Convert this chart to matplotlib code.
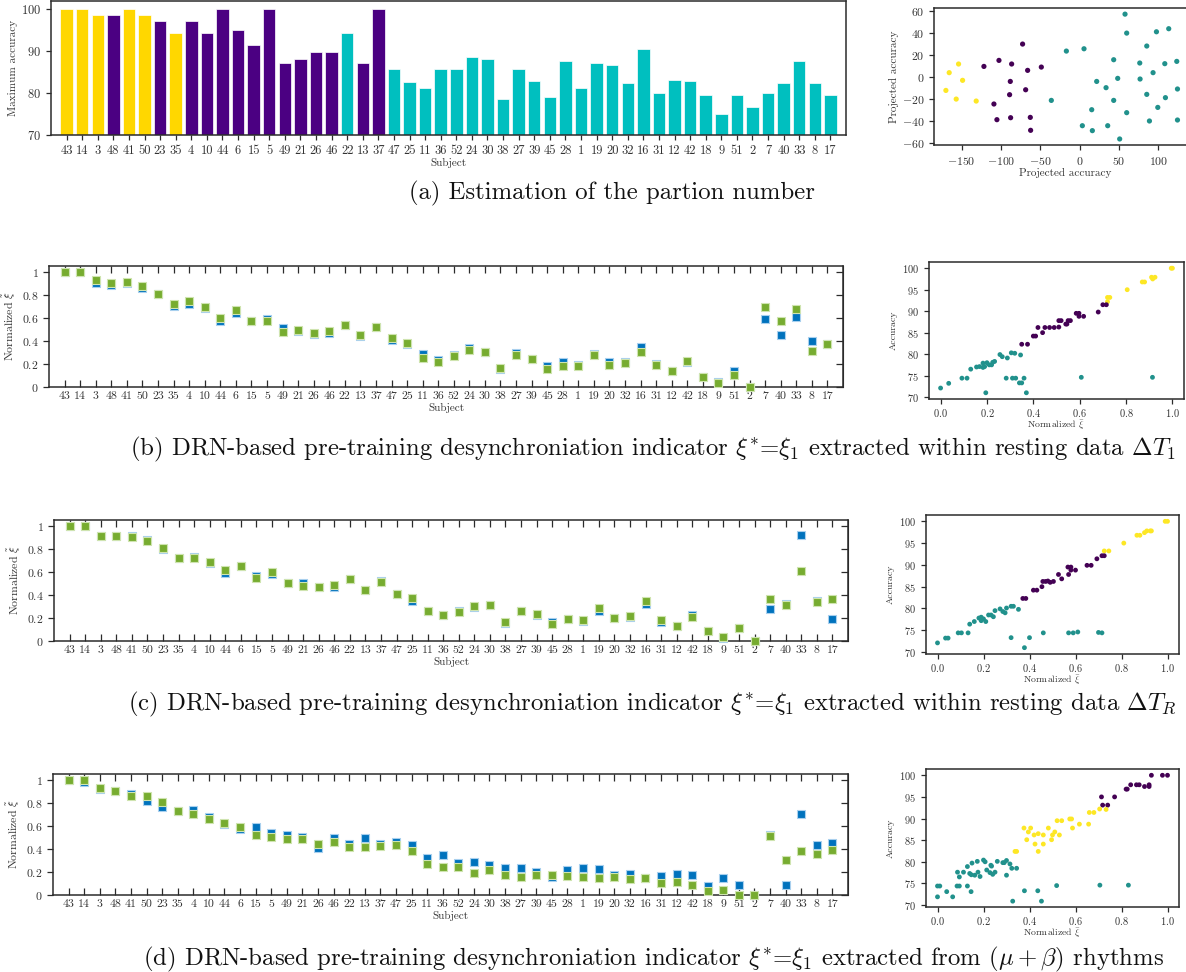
import matplotlib
matplotlib.use("Agg")
import matplotlib.pyplot as plt
from matplotlib.ticker import FixedLocator, FuncFormatter

# fonts: computer modern look
plt.rcParams["font.family"] = ["cmr10", "DejaVu Serif"]
plt.rcParams["mathtext.fontset"] = "cm"
plt.rcParams["axes.formatter.use_mathtext"] = True
plt.rcParams["axes.unicode_minus"] = False

# ---------------- data ----------------
subjects = [43, 14, 3, 48, 41, 50, 23, 35, 4, 10, 44, 6, 15, 5, 49, 21, 26, 46, 22, 13,
            37, 47, 25, 11, 36, 52, 24, 30, 38, 27, 39, 45, 28, 1, 19, 20, 32, 16, 31, 12,
            42, 18, 9, 51, 2, 7, 40, 33, 8, 17]

# groups: 0 purple, 1 teal, 2 yellow
bar_acc = [100, 100, 98.6, 98.6, 100, 98.6, 97.2, 94.3, 97.2, 94.3, 100, 95.0, 91.5, 100,
           87.2, 88.1, 89.8, 89.8, 94.3, 87.2, 100, 85.7, 82.5, 81.3, 85.7, 85.7, 88.6, 88.1,
           78.6, 85.7, 82.9, 79.1, 87.7, 81.3, 87.1, 86.7, 82.4, 90.5, 80.0, 83.0, 82.9, 79.5,
           75.0, 79.5, 76.7, 80.0, 82.4, 87.7, 82.4, 79.5]
bar_group = [2, 2, 2, 0, 2, 2, 0, 2, 0, 0, 0, 0, 0, 0, 0, 0, 0, 0, 1, 0, 0] + [1] * 29

proj_x = [-153.8, -165.7, -148.7, -169.9, -156.8, -131.4,
          -121.6, -102.5, -86.4, -72.5, -66.1, -48.7, -88.1, -68.6, -89.0, -108.9, -105.1,
          -87.7, -62.7, -62.3,
          -36.0, -16.9, 5.5, 21.6, 33.5, 43.2, 48.3, 43.2, 15.3, 3.4, 16.1, 35.6, 50.8, 59.7,
          57.6, 59.7, 76.3, 76.7, 85.2, 93.2, 85.2, 99.2, 88.6, 97.5, 113.1, 108.1, 108.9,
          123.3, 124.2, 124.2]
proj_y = [11.9, 4.0, -3.0, -12.2, -20.1, -21.9,
          9.7, 15.2, 11.9, 30.1, 6.1, 9.1, -4.0, -11.6, -16.1, -24.6, -38.9, -37.1, -36.8,
          -48.6,
          -21.3, 23.7, 25.8, -4.0, -9.7, 15.8, -1.2, -21.3, -29.8, -44.4, -48.9, -44.4, -56.5,
          -32.5, 57.4, 40.1, 12.8, -1.8, 28.3, 4.0, -15.8, -27.7, -40.1, 41.3, 44.1, 12.2,
          -18.8, 14.3, -10.9, -39.2]
proj_group = [2] * 6 + [0] * 14 + [1] * 30

# normalized xi, two series per panel
xi_b_blue = [1.0, 1.0, 0.90, 0.885, 0.90, 0.86, 0.805, 0.70, 0.72, 0.685, 0.575, 0.645, 0.57,
             0.59, 0.51, 0.49, 0.46, 0.47, 0.535, 0.445, 0.52, 0.41, 0.375, 0.285, 0.235, 0.275,
             0.335, 0.30, 0.16, 0.295, 0.24, 0.18, 0.215, 0.19, 0.29, 0.215, 0.22, 0.345, 0.20,
             0.135, 0.215, 0.09, 0.045, 0.135, 0.0, 0.59, 0.455, 0.605, 0.40, 0.375]
xi_b_green = [1.0, 1.0, 0.93, 0.90, 0.91, 0.88, 0.805, 0.72, 0.745, 0.69, 0.595, 0.665, 0.57,
              0.57, 0.48, 0.495, 0.465, 0.485, 0.54, 0.45, 0.52, 0.425, 0.38, 0.255, 0.22, 0.27,
              0.32, 0.30, 0.165, 0.28, 0.24, 0.16, 0.18, 0.18, 0.28, 0.19, 0.205, 0.305, 0.19,
              0.135, 0.225, 0.09, 0.035, 0.105, 0.0, 0.69, 0.57, 0.675, 0.315, 0.375]

xi_c_blue = [1.0, 1.0, 0.915, 0.91, 0.907, 0.88, 0.80, 0.72, 0.73, 0.68, 0.592, 0.65, 0.563,
             0.58, 0.503, 0.503, 0.465, 0.47, 0.535, 0.44, 0.517, 0.407, 0.347, 0.263, 0.225,
             0.263, 0.292, 0.315, 0.153, 0.263, 0.222, 0.162, 0.188, 0.176, 0.26, 0.202, 0.205,
             0.318, 0.165, 0.133, 0.222, 0.09, 0.03, 0.11, 0.0, 0.28, 0.324, 0.916, 0.35, 0.194]
xi_c_green = [0.995, 1.0, 0.915, 0.91, 0.905, 0.867, 0.803, 0.72, 0.722, 0.682, 0.615, 0.65,
              0.55, 0.595, 0.505, 0.477, 0.47, 0.485, 0.54, 0.44, 0.512, 0.407, 0.37, 0.26,
              0.225, 0.254, 0.303, 0.315, 0.165, 0.263, 0.231, 0.15, 0.188, 0.185, 0.286, 0.202,
              0.217, 0.344, 0.182, 0.133, 0.211, 0.09, 0.032, 0.113, 0.0, 0.361, 0.309, 0.607,
              0.335, 0.367]

xi_d_blue = [1.0, 0.983, 0.92, 0.905, 0.876, 0.815, 0.766, 0.731, 0.74, 0.673, 0.618, 0.575,
             0.59, 0.54, 0.517, 0.506, 0.407, 0.497, 0.445, 0.497, 0.442, 0.462, 0.434, 0.318,
             0.344, 0.277, 0.289, 0.26, 0.237, 0.234, 0.202, 0.156, 0.22, 0.234, 0.225, 0.173,
             0.185, 0.145, 0.165, 0.182, 0.173, 0.078, 0.145, 0.087, 0.0, 0.52, 0.09, 0.705,
             0.434, 0.45]
xi_d_green = [1.0, 1.0, 0.93, 0.905, 0.858, 0.855, 0.806, 0.731, 0.70, 0.66, 0.627, 0.587,
              0.523, 0.50, 0.486, 0.483, 0.442, 0.46, 0.419, 0.416, 0.428, 0.43, 0.384, 0.272,
              0.246, 0.243, 0.194, 0.217, 0.173, 0.159, 0.176, 0.176, 0.165, 0.156, 0.147, 0.159,
              0.136, 0.15, 0.10, 0.11, 0.084, 0.035, 0.04, 0.0, 0.0, 0.512, 0.30, 0.384, 0.355,
              0.387]

# accuracy vs normalized xi (cluster scatter)
sc_b_x = [0.995, 1.0, 0.91, 0.925, 0.915, 0.87, 0.88, 0.805, 0.72, 0.73, 0.72,
          0.715, 0.70, 0.68, 0.585, 0.597, 0.597, 0.617, 0.55, 0.56, 0.51, 0.52, 0.54, 0.545,
          0.42, 0.45, 0.47, 0.49, 0.51, 0.44, 0.40, 0.41, 0.35, 0.375,
          0.256, 0.266, 0.305, 0.32, 0.288, 0.345, 0.13, 0.155, 0.168, 0.183, 0.19, 0.21, 0.22,
          0.233, 0.183, 0.20, 0.225, 0.092, 0.114, 0.035, 0.0, 0.195, 0.283, 0.31, 0.324, 0.34,
          0.35, 0.36, 0.37, 0.607, 0.914]
sc_b_y = [100, 100, 97.9, 97.9, 97.5, 96.8, 96.8, 95.0, 93.2, 93.2, 92.2,
          91.5, 91.5, 89.8, 89.5, 89.5, 88.8, 88.8, 87.8, 87.8, 87.8, 87.8, 87.0, 87.0,
          86.2, 86.2, 86.2, 86.2, 86.3, 85.0, 84.2, 84.2, 82.3, 82.3,
          79.9, 79.4, 80.3, 80.2, 79.1, 79.8, 76.5, 77.0, 77.1, 77.9, 77.1, 77.5, 77.5,
          78.3, 76.9, 78.0, 78.1, 74.4, 74.4, 73.2, 72.1, 71.0, 74.4, 74.4, 74.4, 73.3,
          73.3, 74.4, 71.0, 74.6, 74.6]
sc_b_g = [2] * 11 + [0] * 23 + [1] * 31

sc_c_x = [0.99, 1.0, 0.91, 0.925, 0.93, 0.90, 0.867, 0.88, 0.81, 0.725, 0.745,
          0.715, 0.725, 0.693, 0.65, 0.668, 0.567, 0.58, 0.58, 0.60, 0.57, 0.526, 0.54, 0.458,
          0.47, 0.48, 0.49, 0.504, 0.454, 0.417, 0.432, 0.371, 0.384,
          0.352, 0.32, 0.33, 0.30, 0.272, 0.284, 0.294, 0.25, 0.222, 0.233, 0.243, 0.18, 0.19,
          0.20, 0.21, 0.19, 0.14, 0.16, 0.09, 0.104, 0.133, 0.035, 0.046, 0.0, 0.32, 0.378,
          0.40, 0.46, 0.57, 0.59, 0.61, 0.70, 0.715]
sc_c_y = [100, 100, 97.8, 97.8, 97.8, 97.4, 96.8, 96.8, 95.0, 93.2, 93.2,
          92.1, 92.1, 91.4, 89.9, 89.9, 89.5, 89.5, 88.8, 88.8, 87.8, 87.8, 86.8, 86.2,
          86.2, 86.3, 86.0, 86.2, 85.0, 84.2, 84.2, 82.3, 82.3,
          79.8, 80.5, 80.5, 80.1, 79.9, 79.3, 79.0, 79.5, 78.5, 78.5, 78.1, 77.8, 77.2,
          77.6, 77.0, 78.0, 76.4, 77.0, 74.4, 74.4, 74.4, 73.2, 73.2, 72.1, 73.3, 71.0,
          73.3, 74.4, 74.4, 74.4, 74.6, 74.5, 74.4]
sc_c_g = [2] * 11 + [0] * 22 + [1] * 33

sc_d_x = [0.978, 1.0, 0.93, 0.90, 0.92, 0.92, 0.865, 0.877, 0.84, 0.82, 0.825, 0.77, 0.713,
          0.718, 0.74,
          0.66, 0.68, 0.705, 0.733, 0.617, 0.657, 0.575, 0.583, 0.52, 0.54, 0.587, 0.482,
          0.405, 0.376, 0.51, 0.46, 0.50, 0.53, 0.395, 0.42, 0.438, 0.388, 0.496, 0.424, 0.46,
          0.337, 0.344, 0.438,
          0.0, 0.01, 0.0, 0.04, 0.066, 0.085, 0.095, 0.13, 0.146, 0.095, 0.087, 0.113, 0.13,
          0.15, 0.173, 0.20, 0.207, 0.14, 0.147, 0.162, 0.176, 0.185, 0.214, 0.228, 0.24, 0.25,
          0.235, 0.232, 0.26, 0.284, 0.29, 0.30, 0.315, 0.323, 0.344, 0.30, 0.327, 0.378,
          0.436, 0.452, 0.518, 0.706, 0.83]
sc_d_y = [100, 100, 100, 97.4, 97.4, 97.8, 97.8, 97.8, 97.8, 96.8, 96.8, 95.0, 95.0, 93.1,
          93.1,
          91.4, 91.4, 92.2, 92.1, 88.7, 88.7, 89.9, 89.9, 89.5, 89.5, 87.8, 87.8, 87.8, 87.8,
          86.9, 86.2, 86.2, 86.2, 86.9, 86.2, 86.5, 85.1, 85.1, 84.1, 84.1, 82.4, 82.4, 82.4,
          74.4, 74.4, 71.9, 73.1, 71.9, 74.4, 74.4, 74.4, 73.1, 76.5, 77.6, 77.6, 78.9, 79.7,
          80.1, 80.4, 80.0, 77.3, 77.0, 76.9, 77.6, 76.6, 78.1, 77.5, 77.1, 77.6, 79.0, 79.2,
          80.1, 79.8, 79.8, 80.3, 79.5, 78.5, 78.5, 76.9, 70.9, 73.3, 73.3, 70.9, 74.5, 74.6,
          74.6]
sc_d_g = [0] * 15 + [2] * 28 + [1] * 43

captions = [
    "(a) Estimation of the partion number",
    r"(b) DRN-based pre-training desynchroniation indicator $\xi^{*}$=$\xi_1$ extracted within resting data $\Delta T_1$",
    r"(c) DRN-based pre-training desynchroniation indicator $\xi^{*}$=$\xi_1$ extracted within resting data $\Delta T_R$",
    r"(d) DRN-based pre-training desynchroniation indicator $\xi^{*}$=$\xi_1$ extracted from $(\mu+\beta)$ rhythms",
]

# ---------------- styling ----------------
BAR_COLORS = {0: "#4B0082", 1: "#00BFBF", 2: "#FFD700"}
VIR_COLORS = {0: "#440154", 1: "#21918c", 2: "#fde725"}
BLUE, BLUE_EDGE = "#0072BD", "#a9d0ee"
GREEN, GREEN_EDGE = "#77AC30", "#cfe4b0"
SPINE = "#2b2b2b"
TXT = "#333333"

W, H = 1186, 972
fig = plt.figure(figsize=(W / 100, H / 100), dpi=100)


def px_axes(l, t, r, b):
    return fig.add_axes([l / W, 1 - b / H, (r - l) / W, (b - t) / H])


def style_box(ax, fs=8.5):
    for s in ax.spines.values():
        s.set_color(SPINE)
        s.set_linewidth(1.1)
    ax.tick_params(colors=SPINE, labelcolor=TXT, labelsize=fs, width=0.9, length=3.5)


xpos = list(range(len(subjects)))
sub_labels = [str(s) for s in subjects]

# (a) bars
ax = px_axes(51, 1, 846, 135)
ax.bar(xpos, [a - 70 for a in bar_acc], bottom=70, width=0.8,
       color=[BAR_COLORS[g] for g in bar_group], edgecolor="white", linewidth=0.5)
ax.set_xlim(-1, 50)
ax.set_ylim(70, 101.9)
ax.set_yticks([70, 80, 90, 100])
ax.set_xticks(xpos)
ax.set_xticklabels(sub_labels)
ax.set_ylabel("Maximum accuracy", fontsize=8, color=TXT, labelpad=2)
ax.set_xlabel("Subject", fontsize=8, color=TXT, labelpad=1)
style_box(ax, fs=9)

# (a) projection scatter (right edge runs off the page)
ax = px_axes(934, 8, 1197, 145)
ax.scatter(proj_x, proj_y, s=14, c=[VIR_COLORS[g] for g in proj_group], linewidths=0)
ax.set_xlim(-185, 149)
ax.set_ylim(-62, 63)
ax.set_xticks([-150, -100, -50, 0, 50, 100])
ax.set_yticks([-60, -40, -20, 0, 20, 40, 60])
ax.set_xlabel("Projected accuracy", fontsize=8, color=TXT, labelpad=1)
ax.set_ylabel("Projected accuracy", fontsize=8, color=TXT, labelpad=2)
style_box(ax, fs=8.5)

panels = [
    (xi_b_blue, xi_b_green, (49, 266, 843, 387), sc_b_x, sc_b_y, sc_b_g, (929, 262, 1184, 399)),
    (xi_c_blue, xi_c_green, (54, 520, 848, 641), sc_c_x, sc_c_y, sc_c_g, (926, 515, 1179, 654)),
    (xi_d_blue, xi_d_green, (53, 774, 848, 895), sc_d_x, sc_d_y, sc_d_g, (926, 769, 1179, 907)),
]

for blue, green, box, sx, sy, sg, sbox in panels:
    ax = px_axes(*box)
    ax.scatter(xpos, blue, marker="s", s=36, c=BLUE, edgecolors=BLUE_EDGE, linewidths=0.8,
               clip_on=False, zorder=3)
    ax.scatter(xpos, green, marker="s", s=36, c=GREEN, edgecolors=GREEN_EDGE, linewidths=0.8,
               clip_on=False, zorder=4)
    ax.set_xlim(-1, 50)
    ax.set_ylim(0, 1.05)
    ax.yaxis.set_major_locator(FixedLocator([0, 0.2, 0.4, 0.6, 0.8, 1.0]))
    ax.yaxis.set_major_formatter(FuncFormatter(lambda v, p: r"$\mathdefault{%g}$" % v))
    ax.set_xticks(xpos)
    ax.set_xticklabels(sub_labels)
    style_box(ax, fs=8.5)
    ax.tick_params(axis="x", direction="in", top=True, length=5)
    ax.tick_params(axis="y", direction="out", length=4)
    sec = ax.secondary_yaxis("right")
    sec.set_yticks([0, 0.2, 0.4, 0.6, 0.8, 1.0])
    sec.tick_params(direction="in", length=5, labelright=False, colors=SPINE, width=0.9)
    sec.spines["right"].set_color(SPINE)
    ax.set_ylabel(r"Normalized $\tilde{\xi}$", fontsize=8.5, color=TXT, labelpad=3)
    ax.set_xlabel("Subject", fontsize=8, color=TXT, labelpad=1)

    ax2 = px_axes(*sbox)
    ax2.scatter(sx, sy, s=12, c=[VIR_COLORS[g] for g in sg], linewidths=0)
    ax2.set_xlim(-0.05, 1.05)
    ax2.set_ylim(69.55, 101.45)
    ax2.set_xticks([0, 0.2, 0.4, 0.6, 0.8, 1.0])
    ax2.set_yticks([70, 75, 80, 85, 90, 95, 100])
    ax2.set_xlabel(r"Normalized $\bar{\xi}$", fontsize=7, color=TXT, labelpad=0)
    ax2.set_ylabel("Accuracy", fontsize=7, color=TXT, labelpad=3)
    style_box(ax2, fs=7.5)
    ax2.tick_params(axis="x", pad=2)

# captions
cap_pos = [(612, 193), (653, 449), (652, 704), (653, 959)]
for txt, (cx, cy) in zip(captions, cap_pos):
    fig.text(cx / W, 1 - cy / H, txt, ha="center", va="center", fontsize=17.8, color="#111111")

fig.savefig("out.png", dpi=100)
